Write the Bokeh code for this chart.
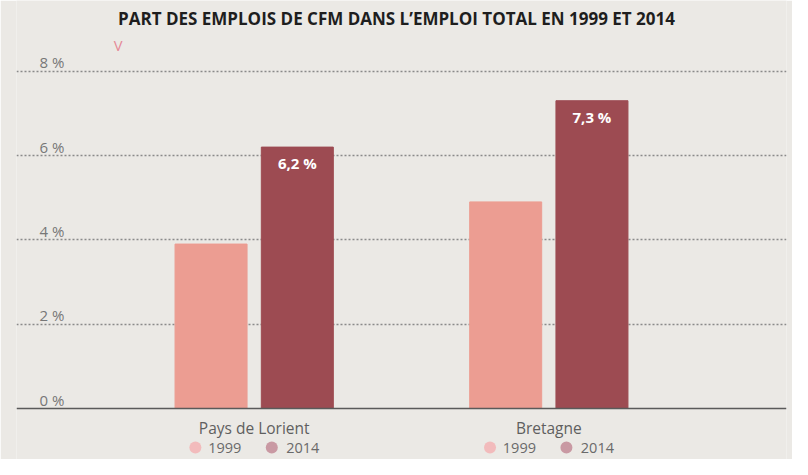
from bokeh.plotting import figure
from bokeh.models import (ColumnDataSource, FactorRange, Range1d, FixedTicker,
                          Span, Label)
from bokeh.transform import dodge
from bokeh.core.properties import value
from bokeh.embed import file_html
from bokeh.resources import INLINE

# ---------------- data ----------------
title_text = "PART DES EMPLOIS DE CFM DANS L’EMPLOI TOTAL EN 1999 ET 2014"
categories = ["Pays de Lorient", "Bretagne"]
years = ["1999", "2014"]
values_1999 = [3.9, 4.9]
values_2014 = [6.2, 7.3]
y_ticks = [0, 2, 4, 6, 8]
y_tick_labels = ["0 %", "2 %", "4 %", "6 %", "8 %"]

bar_colors = {"1999": "#ec9d92", "2014": "#9d4b52"}
legend_colors = {"1999": "#f3b6b7", "2014": "#c5909b"}
BG = "#ebe9e5"

# ---------------- layout constants ----------------
W, H = 792, 459
LEFT, RIGHT = 16, 6
ZERO_PX = 408          # pixel row (from top of figure) of the 0 line
PPU = 42.16            # pixels per percentage point
U = 78.0               # pixels per factor unit

factors = [(c, y) for c in categories for y in years]
tops = []
cols = []
for i, c in enumerate(categories):
    tops += [values_1999[i], values_2014[i]]
    cols += [bar_colors["1999"], bar_colors["2014"]]

x_range = FactorRange(*factors, factor_padding=0.106, group_padding=1.671,
                      range_padding=1.994, range_padding_units="absolute")
y_range = Range1d(-(H - ZERO_PX) / PPU, ZERO_PX / PPU)

p = figure(width=W, height=H, x_range=x_range, y_range=y_range,
           output_backend="svg", toolbar_location=None,
           min_border=0, min_border_left=LEFT, min_border_right=RIGHT)
p.background_fill_color = BG
p.border_fill_color = BG
p.outline_line_color = None
p.xaxis.visible = False
p.yaxis.visible = False
p.xgrid.visible = False
p.ygrid.ticker = FixedTicker(ticks=y_ticks[1:])
p.ygrid.grid_line_color = "#8a8a8a"
p.ygrid.grid_line_width = 1.5
p.ygrid.grid_line_dash = "2 2"

# zero line
p.add_layout(Span(location=y_ticks[0], dimension="width",
                  line_color="#5a5a5a", line_width=1.6))

# bars
bar_src = ColumnDataSource(dict(x=factors, top=tops, color=cols))
p.vbar(x="x", top="top", bottom=0, width=72 / U, fill_color="color",
       line_color="color", line_width=1, source=bar_src)

# value labels on 2014 bars
lab_src = ColumnDataSource(dict(
    x=[(c, "2014") for c in categories], y=values_2014,
    text=[f"{v:.1f}".replace(".", ",") + " %" for v in values_2014]))
p.text(x="x", y="y", text="text", source=lab_src, text_color="white",
       text_font=value("Open Sans"), text_font_style="bold",
       text_font_size="15px", text_align="center", text_baseline="middle",
       y_offset=16)

# y tick labels (above gridlines, inside the plot)
for t, lab in zip(y_ticks, y_tick_labels):
    p.add_layout(Label(x=23, x_units="screen", y=t, y_units="data",
                       text=lab, y_offset=9, text_color="#777777",
                       text_font="Open Sans", text_font_size="15px",
                       text_align="left", text_baseline="middle"))

# category labels
cat_src = ColumnDataSource(dict(x=categories, y=[0] * len(categories),
                                text=categories))
p.text(x="x", y="y", text="text", source=cat_src, text_color="#5f5f5f",
       text_font=value("Open Sans"), text_font_size="15.5px",
       text_align="center", text_baseline="middle", y_offset=19)

# per-group legends
LEG_PX = 39
y_leg = -LEG_PX / PPU
for yr, dot_px, txt_dx in (("1999", -58.8, -46), ("2014", 17.6, 32)):
    src = ColumnDataSource(dict(x=categories, y=[y_leg] * len(categories),
                                t=[0] * len(categories),
                                text=[yr] * len(categories)))
    p.scatter(x=dodge("x", dot_px / U, range=p.x_range), y="y", source=src,
              size=12, marker="circle", fill_color=legend_colors[yr],
              line_color=None, fill_alpha=0.9)
    p.text(x="x", y="t", text="text", source=src, text_color="#6a6a6a",
           text_font=value("Open Sans"), text_font_size="14.5px",
           text_align="left", text_baseline="middle", x_offset=txt_dx,
           y_offset=LEG_PX)

# title and small mark
p.add_layout(Label(x=380, y=H - 17.5, x_units="screen", y_units="screen",
                   text=title_text, text_color="#1e1e1e",
                   text_font="Open Sans", text_font_style="bold",
                   text_font_size="17px", text_align="center",
                   text_baseline="middle"))
p.add_layout(Label(x=101.6, y=H - 45.4, x_units="screen", y_units="screen",
                   text="V", text_color="#e58a97", text_font="Lato",
                   text_font_size="13px", text_align="center",
                   text_baseline="middle"))

open("out.html", "w").write(file_html(p, INLINE))
